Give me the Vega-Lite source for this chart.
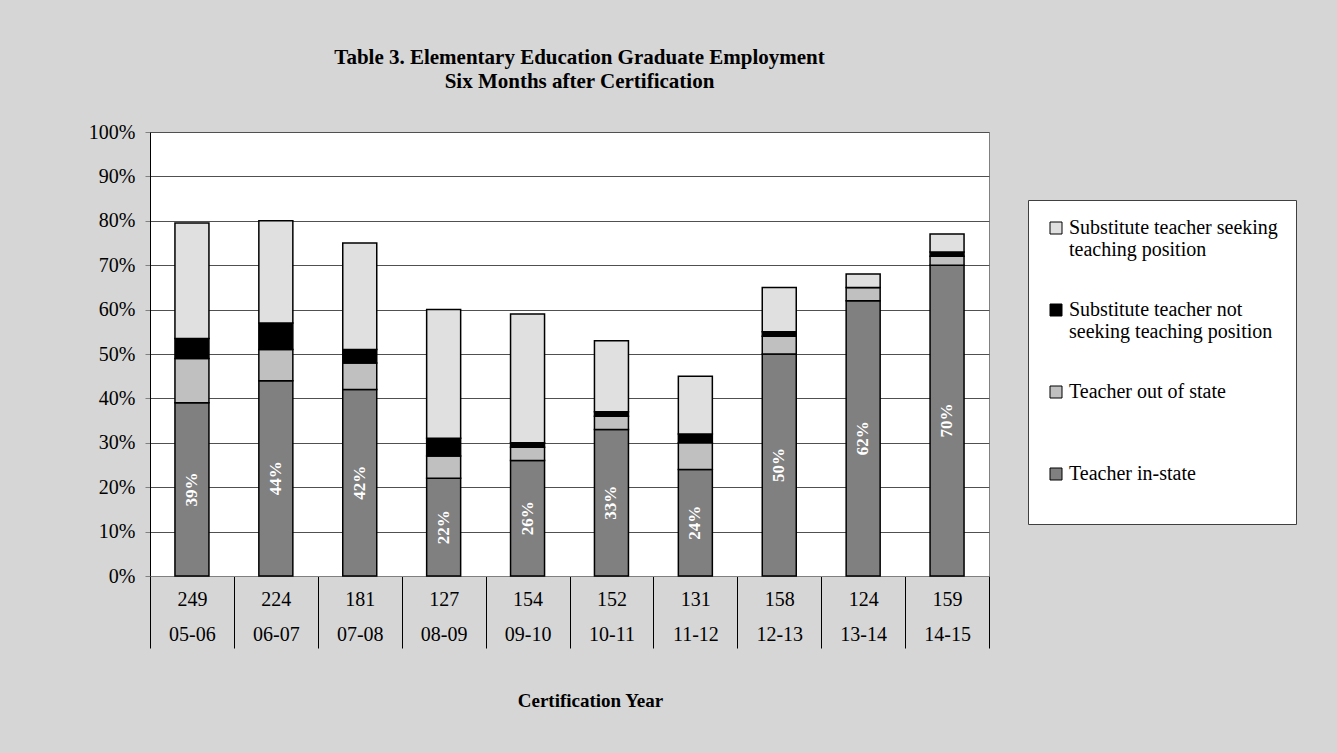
{
  "$schema": "https://vega.github.io/schema/vega-lite/v6.json",
  "autosize": "none",
  "width": 839,
  "height": 444,
  "padding": {"left": 150, "top": 132, "right": 348, "bottom": 177},
  "background": "#d6d6d6",
  "title": {
    "text": ["Table 3. Elementary Education Graduate Employment", "Six Months after Certification"],
    "font": "Liberation Serif",
    "fontSize": 21,
    "fontWeight": "bold",
    "color": "#000000",
    "lineHeight": 24,
    "anchor": "middle",
    "dx": 10,
    "offset": 30
  },
  "data": {
    "values": [
      {"cohort": "249|05-06", "status": "Teacher in-state", "pct": 0.39},
      {"cohort": "249|05-06", "status": "Teacher out of state", "pct": 0.10},
      {"cohort": "249|05-06", "status": "Substitute teacher not seeking teaching position", "pct": 0.045},
      {"cohort": "249|05-06", "status": "Substitute teacher seeking teaching position", "pct": 0.26},
      {"cohort": "224|06-07", "status": "Teacher in-state", "pct": 0.44},
      {"cohort": "224|06-07", "status": "Teacher out of state", "pct": 0.07},
      {"cohort": "224|06-07", "status": "Substitute teacher not seeking teaching position", "pct": 0.06},
      {"cohort": "224|06-07", "status": "Substitute teacher seeking teaching position", "pct": 0.23},
      {"cohort": "181|07-08", "status": "Teacher in-state", "pct": 0.42},
      {"cohort": "181|07-08", "status": "Teacher out of state", "pct": 0.06},
      {"cohort": "181|07-08", "status": "Substitute teacher not seeking teaching position", "pct": 0.03},
      {"cohort": "181|07-08", "status": "Substitute teacher seeking teaching position", "pct": 0.24},
      {"cohort": "127|08-09", "status": "Teacher in-state", "pct": 0.22},
      {"cohort": "127|08-09", "status": "Teacher out of state", "pct": 0.05},
      {"cohort": "127|08-09", "status": "Substitute teacher not seeking teaching position", "pct": 0.04},
      {"cohort": "127|08-09", "status": "Substitute teacher seeking teaching position", "pct": 0.29},
      {"cohort": "154|09-10", "status": "Teacher in-state", "pct": 0.26},
      {"cohort": "154|09-10", "status": "Teacher out of state", "pct": 0.03},
      {"cohort": "154|09-10", "status": "Substitute teacher not seeking teaching position", "pct": 0.01},
      {"cohort": "154|09-10", "status": "Substitute teacher seeking teaching position", "pct": 0.29},
      {"cohort": "152|10-11", "status": "Teacher in-state", "pct": 0.33},
      {"cohort": "152|10-11", "status": "Teacher out of state", "pct": 0.03},
      {"cohort": "152|10-11", "status": "Substitute teacher not seeking teaching position", "pct": 0.01},
      {"cohort": "152|10-11", "status": "Substitute teacher seeking teaching position", "pct": 0.16},
      {"cohort": "131|11-12", "status": "Teacher in-state", "pct": 0.24},
      {"cohort": "131|11-12", "status": "Teacher out of state", "pct": 0.06},
      {"cohort": "131|11-12", "status": "Substitute teacher not seeking teaching position", "pct": 0.02},
      {"cohort": "131|11-12", "status": "Substitute teacher seeking teaching position", "pct": 0.13},
      {"cohort": "158|12-13", "status": "Teacher in-state", "pct": 0.50},
      {"cohort": "158|12-13", "status": "Teacher out of state", "pct": 0.04},
      {"cohort": "158|12-13", "status": "Substitute teacher not seeking teaching position", "pct": 0.01},
      {"cohort": "158|12-13", "status": "Substitute teacher seeking teaching position", "pct": 0.10},
      {"cohort": "124|13-14", "status": "Teacher in-state", "pct": 0.62},
      {"cohort": "124|13-14", "status": "Teacher out of state", "pct": 0.03},
      {"cohort": "124|13-14", "status": "Substitute teacher not seeking teaching position", "pct": 0.0},
      {"cohort": "124|13-14", "status": "Substitute teacher seeking teaching position", "pct": 0.03},
      {"cohort": "159|14-15", "status": "Teacher in-state", "pct": 0.70},
      {"cohort": "159|14-15", "status": "Teacher out of state", "pct": 0.02},
      {"cohort": "159|14-15", "status": "Substitute teacher not seeking teaching position", "pct": 0.01},
      {"cohort": "159|14-15", "status": "Substitute teacher seeking teaching position", "pct": 0.04}
    ]
  },
  "resolve": {"scale": {"y": "independent"}, "axis": {"y": "independent"}},
  "layer": [
    {
      "transform": [
        {"window": [{"op": "row_number", "as": "layer_order"}], "groupby": ["cohort"]}
      ],
      "mark": {"type": "bar", "size": 34, "stroke": "#000000", "strokeWidth": 1.5},
      "encoding": {
        "x": {
          "field": "cohort",
          "type": "nominal",
          "sort": null,
          "scale": {"paddingInner": 0, "paddingOuter": 0},
          "axis": {
            "title": "Certification Year",
            "titleFont": "Liberation Serif",
            "titleFontSize": 19,
            "titleFontWeight": "bold",
            "titleColor": "#000000",
            "titleX": 440,
            "titleY": 124,
            "titleBaseline": "middle",
            "labelExpr": "split(datum.label, '|')",
            "labelFont": "Liberation Serif",
            "labelFontSize": 20,
            "labelColor": "#000000",
            "labelLineHeight": 35,
            "labelAngle": 0,
            "labelPadding": -59,
            "labelBaseline": "top",
            "tickBand": "extent",
            "tickSize": 72,
            "tickColor": "#000000",
            "domainColor": "#808080",
            "grid": false
          }
        },
        "y": {
          "field": "pct",
          "type": "quantitative",
          "stack": "zero",
          "scale": {"domain": [0, 1], "nice": false},
          "axis": {
            "title": null,
            "tickCount": 10,
            "format": ".0%",
            "labelFont": "Liberation Serif",
            "labelFontSize": 20,
            "labelColor": "#000000",
            "labelPadding": 10,
            "tickSize": 5,
            "tickColor": "#808080",
            "domainColor": "#000000",
            "gridColor": "#505050"
          }
        },
        "order": {"field": "layer_order", "type": "quantitative"},
        "color": {
          "field": "status",
          "type": "nominal",
          "scale": {
            "domain": [
              "Substitute teacher seeking teaching position",
              "Substitute teacher not seeking teaching position",
              "Teacher out of state",
              "Teacher in-state"
            ],
            "range": ["#e0e0e0", "#000000", "#c0c0c0", "#808080"]
          },
          "legend": {
            "title": null,
            "orient": "none",
            "legendX": 878,
            "legendY": 68,
            "padding": 18,
            "fillColor": "#ffffff",
            "strokeColor": "#404040",
            "symbolType": "square",
            "symbolSize": 144,
            "symbolStrokeColor": "#000000",
            "symbolStrokeWidth": 1,
            "labelFont": "Liberation Serif",
            "labelFontSize": 20,
            "labelColor": "#000000",
            "labelLimit": 400,
            "labelOffset": 3,
            "labelLineHeight": 23,
            "rowPadding": 40,
            "labelExpr": "datum.label == 'Substitute teacher seeking teaching position' ? ['Substitute teacher seeking', 'teaching position'] : datum.label == 'Substitute teacher not seeking teaching position' ? ['Substitute teacher not', 'seeking teaching position'] : [datum.label, ' ']"
          }
        }
      }
    },
    {
      "transform": [
        {"filter": "datum.status == 'Teacher in-state'"}
      ],
      "mark": {
        "type": "text",
        "angle": 270,
        "color": "#ffffff",
        "font": "Liberation Serif",
        "fontSize": 17,
        "fontWeight": "bold",
        "align": "center",
        "baseline": "middle"
      },
      "encoding": {
        "x": {"field": "cohort", "type": "nominal", "sort": null},
        "y": {"field": "pct", "type": "quantitative", "scale": {"domain": [0, 2], "nice": false}, "axis": null},
        "text": {"field": "pct", "type": "quantitative", "format": ".0%"}
      }
    }
  ],
  "config": {
    "font": "Liberation Serif",
    "view": {"stroke": "#808080", "fill": "#ffffff"}
  }
}
